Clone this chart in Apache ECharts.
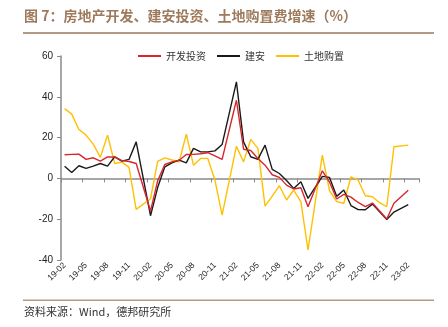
<!DOCTYPE html>
<html>
<head>
<meta charset="utf-8">
<script src="https://cdn.jsdelivr.net/npm/echarts@6/dist/echarts.min.js"></script>
<style>
html,body{margin:0;padding:0;background:#fff;}
#c{width:448px;height:327px;}
</style>
</head>
<body>
<div id="c"></div>
<script>
const categories = ['19-02','19-03','19-04','19-05','19-06','19-07','19-08','19-09','19-10','19-11','19-12','20-01',
  '20-02','20-03','20-04','20-05','20-06','20-07','20-08','20-09','20-10','20-11','20-12','21-01',
  '21-02','21-03','21-04','21-05','21-06','21-07','21-08','21-09','21-10','21-11','21-12','22-01',
  '22-02','22-03','22-04','22-05','22-06','22-07','22-08','22-09','22-10','22-11','22-12','23-01',
  '23-02','23-03'];
const devInvest = [11.6,11.8,11.9,9.3,10.1,8.5,10.5,10.5,8.7,8.3,7.3,null,
  -16.0,-1.2,6.8,8.1,8.9,11.7,11.8,12.1,12.6,11.0,9.3,null,
  38.3,14.3,13.7,9.8,6.5,1.8,0.5,-3.3,-5.2,-4.6,-13.9,null,
  3.7,-1.8,-10.1,-7.8,-9.2,-11.8,-13.8,-12.1,-16.0,-19.9,-12.2,null,
  -5.8,null];
const construction = [6.0,2.9,6.2,4.9,6.0,7.3,6.0,10.6,8.5,9.3,17.9,null,
  -18.3,-4.5,5.7,7.6,9.0,7.6,14.7,13.0,13.0,13.5,16.6,null,
  47.3,17.9,10.6,9.3,16.3,4.4,2.4,-1.0,-4.9,-1.6,-9.8,null,
  1.0,0.5,-8.8,-5.7,-13.3,-15.3,-15.4,-12.6,-16.3,-20.1,-16.5,null,
  -12.9,null];
const landPurchase = [34.2,31.5,24.0,21.2,16.8,10.3,21.2,7.3,8.0,5.4,-15.2,null,
  -10.0,8.4,10.1,9.0,8.1,21.7,6.5,9.8,9.8,-0.8,-18.0,null,
  15.8,8.1,19.1,14.7,-13.6,-8.7,-3.6,-10.6,-5.7,-11.4,-35.1,null,
  11.4,-6.0,-11.4,-12.2,0.8,-0.8,-8.5,-9.0,-11.9,-13.9,15.5,null,
  16.3,null];
const seriesNames = ['开发投资','建安','土地购置'];
const yTicks = {min:-40, max:60, interval:20};

const chart = echarts.init(document.getElementById('c'), null, {renderer:'canvas'});
const cjk = '"Noto Sans CJK SC", sans-serif';
const axisColor = '#8a8a8a';
chart.setOption({
  animation:false,
  backgroundColor:'#ffffff',
  color:['#d9262c','#1a1a1a','#ffc000'],
  legend:{
    left:133, top:46,
    itemWidth:23, itemHeight:2, itemGap:11,
    icon:'rect',
    textStyle:{fontFamily:cjk, fontSize:10, color:'#333'},
    data:seriesNames
  },
  grid:{left:61, top:56, width:358, height:204, containLabel:false, outerBoundsMode:'none'},
  xAxis:[{
    type:'category', data:categories, boundaryGap:true, position:'bottom',
    axisLine:{show:false, onZero:false},
    axisTick:{show:false},
    axisLabel:{interval:2, rotate:45, margin:4, fontSize:8.5, color:'#222', fontFamily:'Liberation Sans, Arial, sans-serif'},
    splitLine:{show:false}
  },{
    type:'category', data:categories, boundaryGap:true, position:'bottom',
    axisLine:{show:true, onZero:true, lineStyle:{color:axisColor, width:1.5}},
    axisTick:{show:true, interval:2, length:4, inside:false, lineStyle:{color:axisColor, width:1}},
    axisLabel:{show:false, interval:2},
    splitLine:{show:false}
  }],
  yAxis:{
    type:'value', min:yTicks.min, max:yTicks.max, interval:yTicks.interval,
    axisLine:{show:true, onZero:false, lineStyle:{color:axisColor, width:1.5}},
    axisTick:{show:true, length:4, lineStyle:{color:axisColor}},
    axisLabel:{fontSize:10, color:'#222', margin:8, fontFamily:'Liberation Sans, Arial, sans-serif'},
    splitLine:{show:false}
  },
  series:[
    {name:seriesNames[0], type:'line', xAxisIndex:0, data:devInvest, symbol:'none', connectNulls:true, lineStyle:{width:1.4}, z:3},
    {name:seriesNames[1], type:'line', xAxisIndex:0, data:construction, symbol:'none', connectNulls:true, lineStyle:{width:1.4}, z:2},
    {name:seriesNames[2], type:'line', xAxisIndex:0, data:landPurchase, symbol:'none', connectNulls:true, lineStyle:{width:1.4}, z:1}
  ],
  graphic:[
    {type:'text', left:24, top:9, style:{text:'图 7：房地产开发、建安投资、土地购置费增速（%）', fill:'#9e7a5c', font:'bold 14px "Noto Sans CJK SC", sans-serif'}},
    {type:'rect', shape:{x:23, y:32, width:411, height:2}, style:{fill:'#b39a82'}},
    {type:'rect', shape:{x:23, y:299.5, width:411, height:1.5}, style:{fill:'#b39a82'}},
    {type:'text', left:24, top:306, style:{text:'资料来源：Wind，德邦研究所', fill:'#333', font:'11px "Noto Sans CJK SC", sans-serif'}}
  ]
});
</script>
</body>
</html>
